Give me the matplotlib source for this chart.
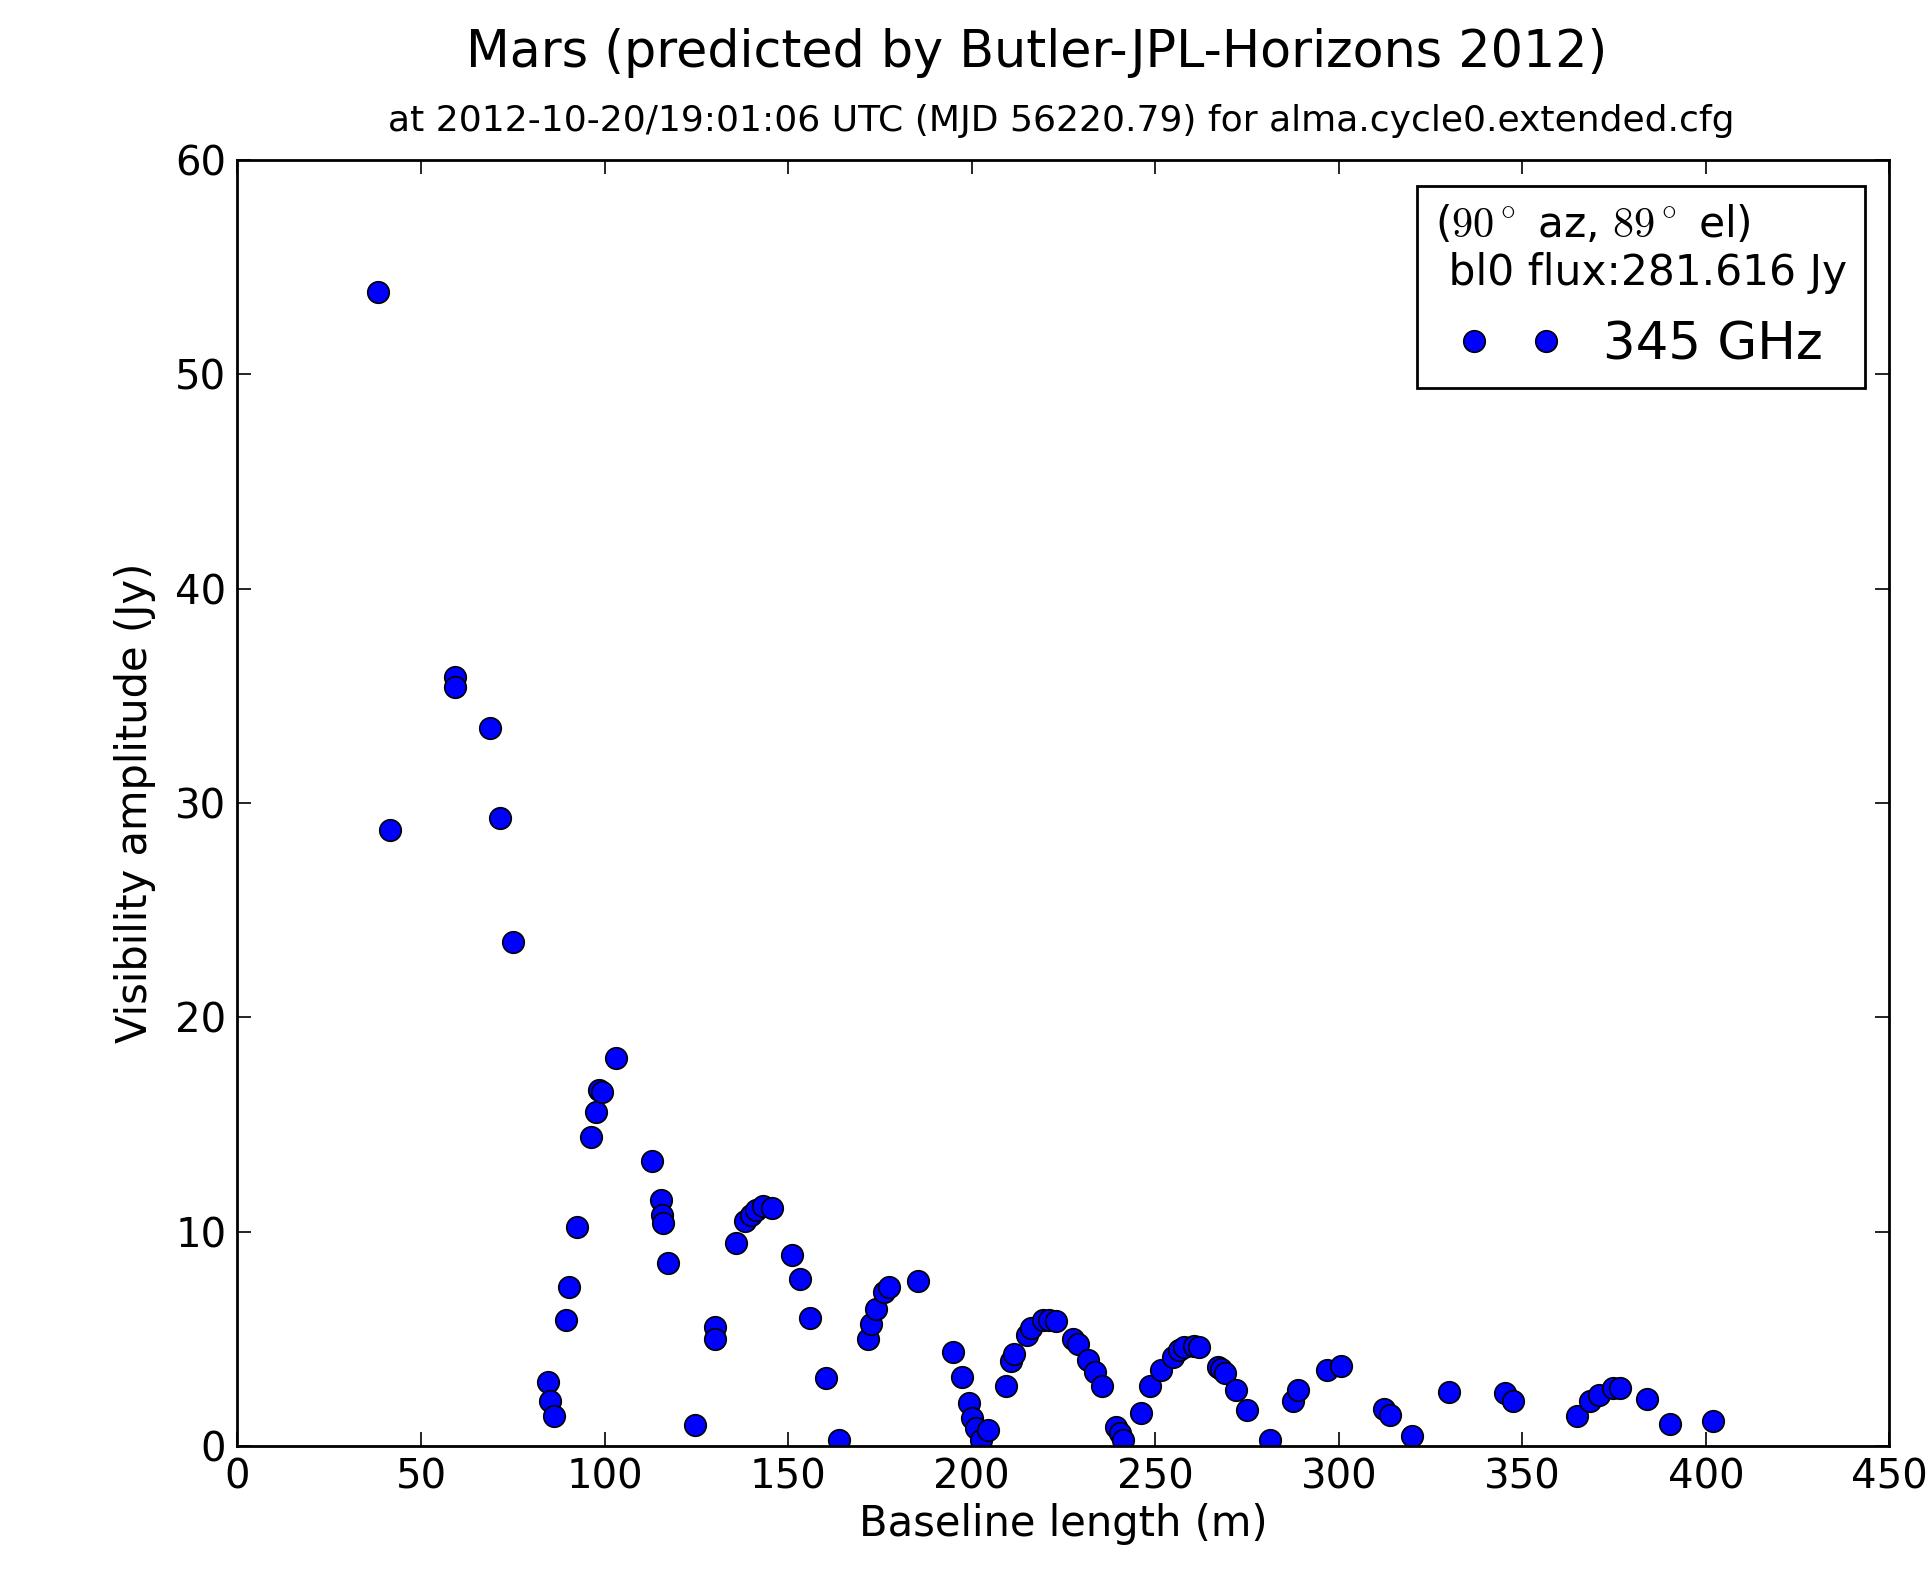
import matplotlib
matplotlib.use("Agg")
import matplotlib.pyplot as plt

plt.rcParams['mathtext.fontset'] = 'cm'

baseline_m = [38.2, 41.6, 59.4, 59.4, 68.7, 71.4, 75.1, 84.5, 85.2, 86.2,
              89.5, 90.2, 92.6, 96.2, 97.6, 98.6, 99.2, 103.0, 113.0, 115.4,
              115.7, 116.0, 117.4, 124.7, 130.1, 130.1, 135.8, 138.2, 139.8, 141.2,
              143.2, 145.5, 151.2, 153.3, 155.9, 160.3, 164.0, 171.7, 172.7, 174.0,
              176.0, 177.4, 185.4, 194.8, 197.5, 199.2, 200.2, 201.2, 202.5, 204.5,
              209.3, 210.6, 211.6, 215.0, 216.3, 219.3, 221.0, 223.0, 227.7, 229.0,
              231.7, 233.7, 235.4, 239.4, 240.4, 241.1, 246.1, 248.5, 251.5, 254.9,
              256.5, 257.9, 260.6, 261.9, 267.0, 268.0, 269.0, 272.0, 275.0, 281.4,
              287.4, 289.0, 296.8, 300.5, 312.2, 313.9, 320.0, 330.0, 345.4, 347.4,
              364.9, 368.5, 370.9, 374.6, 376.6, 384.0, 390.3, 402.0]
amplitude_jy = [53.85, 28.76, 35.9, 35.4, 33.5, 29.3, 23.5, 3.0, 2.1, 1.4,
                5.9, 7.4, 10.2, 14.4, 15.6, 16.6, 16.5, 18.1, 13.3, 11.5,
                10.8, 10.4, 8.55, 1.0, 5.57, 5.0, 9.47, 10.5, 10.8, 11.0,
                11.2, 11.1, 8.9, 7.8, 5.97, 3.16, 0.3, 5.0, 5.7, 6.4,
                7.2, 7.4, 7.7, 4.4, 3.2, 2.0, 1.3, 0.85, 0.3, 0.75,
                2.8, 3.96, 4.3, 5.2, 5.5, 5.9, 5.9, 5.85, 5.0, 4.76,
                4.0, 3.44, 2.8, 0.9, 0.6, 0.3, 1.55, 2.8, 3.56, 4.13,
                4.5, 4.6, 4.65, 4.6, 3.67, 3.6, 3.4, 2.6, 1.66, 0.3,
                2.1, 2.6, 3.56, 3.73, 1.72, 1.44, 0.46, 2.5, 2.47, 2.1,
                1.38, 2.1, 2.4, 2.7, 2.7, 2.18, 1.03, 1.15]

title = "Mars (predicted by Butler-JPL-Horizons 2012)"
subtitle = "at 2012-10-20/19:01:06 UTC (MJD 56220.79) for alma.cycle0.extended.cfg"
legend_title = "($90^\\circ$ az, $89^\\circ$ el)\n bl0 flux:281.616 Jy"
series_label = "345 GHz"
x_ticks = [0, 50, 100, 150, 200, 250, 300, 350, 400, 450]
y_ticks = [0, 10, 20, 30, 40, 50, 60]

fig = plt.figure(figsize=(19.30, 15.69), dpi=100)
ax = fig.add_axes([0.123, 0.0784, 0.856, 0.8196])

ax.plot(baseline_m, amplitude_jy, linestyle='none', marker='o', markersize=15.5,
        markerfacecolor='#0000ff', markeredgecolor='black', markeredgewidth=1.2,
        label=series_label)

ax.set_xlim(0, 450)
ax.set_ylim(0, 60)
ax.set_xticks(x_ticks)
ax.set_yticks(y_ticks)
ax.tick_params(direction='in', length=10, width=1.2, top=True, right=True,
               labelsize=29, pad=8)
for s in ax.spines.values():
    s.set_linewidth(2)

ax.set_xlabel("Baseline length (m)", fontsize=30, labelpad=4)
ax.set_ylabel("Visibility amplitude (Jy)", fontsize=30, labelpad=14)

fig.text(0.537, 0.966, title, ha='center', va='center', fontsize=36.5)
fig.text(0.550, 0.923, subtitle, ha='center', va='center', fontsize=26)

leg = ax.legend(loc='upper right', numpoints=2, fontsize=37, title=legend_title,
                title_fontsize=30.5, fancybox=False, edgecolor='black',
                framealpha=1, borderpad=0.35, borderaxespad=0,
                bbox_to_anchor=(0.985, 0.98))
leg.get_frame().set_linewidth(2)
leg.get_title().set_multialignment('left')

fig.savefig("out.png", dpi=100)
